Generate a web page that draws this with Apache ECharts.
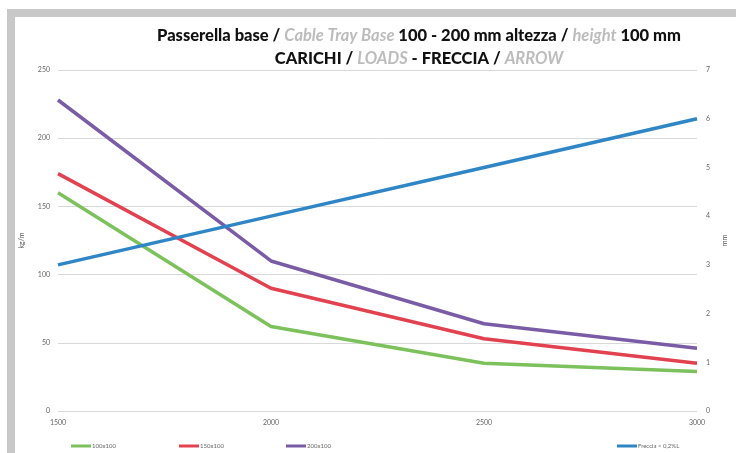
<!DOCTYPE html>
<html>
<head>
<meta charset="utf-8">
<script src="https://cdn.jsdelivr.net/npm/echarts@6/dist/echarts.min.js"></script>
<style>html,body{margin:0;padding:0;background:#fff}#c{width:736px;height:453px}</style>
</head>
<body>
<div id="c"></div>
<script>
const categories = ['1500', '2000', '2500', '3000'];
const s100x100 = [160, 62, 35, 29];
const s150x100 = [174, 90, 53, 35];
const s200x100 = [228, 110, 64, 46];
const freccia = [3, 4, 5, 6];
const leftTicks = [0, 50, 100, 150, 200, 250];
const rightTicks = [0, 1, 2, 3, 4, 5, 6, 7];

const chart = echarts.init(document.getElementById('c'));
const tickFont = { fontSize: 7, color: '#666', fontFamily: 'Lato' };
chart.setOption({
  backgroundColor: '#fff',
  animation: false,
  graphic: [
    { type: 'rect', shape: { x: 7, y: 9, width: 729, height: 8 }, style: { fill: '#c8c8c8' }, silent: true },
    { type: 'rect', shape: { x: 7, y: 9, width: 8, height: 444 }, style: { fill: '#c8c8c8' }, silent: true }
  ],
  title: {
    left: 414, top: 19, textAlign: 'center',
    text: '{b|Passerella base / }{g|Cable Tray Base}{b| 100 - 200 mm altezza / }{g|height}{b| 100 mm}\n{b|CARICHI / }{g|LOADS}{b| - FRECCIA / }{g|ARROW}',
    textStyle: {
      rich: {
        b: { fontFamily: 'Lato', fontWeight: 900, fontSize: 16.5, color: '#111', lineHeight: 23 },
        g: { fontFamily: 'Lato', fontStyle: 'italic', fontSize: 16.5, color: '#bcbcbc', lineHeight: 23 }
      }
    }
  },
  grid: { left: 58, right: 39, top: 70, bottom: 42 },
  legend: [
    { data: ['100x100'], left: 66, top: 438 },
    { data: ['150x100'], left: 174, top: 438 },
    { data: ['200x100'], left: 281, top: 438 },
    { data: ['Freccia < 0,2%L'], left: 612, top: 438 }
  ].map(l => Object.assign(l, {
    icon: 'rect', itemWidth: 20, itemHeight: 3, itemGap: 4,
    textStyle: { fontSize: 6, color: '#666', fontFamily: 'Lato', padding: [0, 0, 0, -4] }
  })),
  xAxis: {
    type: 'category', data: categories, boundaryGap: false,
    axisLine: { show: false }, axisTick: { show: false },
    axisLabel: Object.assign({ margin: 8 }, tickFont),
    splitLine: { show: false }
  },
  yAxis: [
    {
      type: 'value', min: 0, max: 250, interval: 50,
      name: 'kg/m', nameLocation: 'middle', nameGap: 33,
      nameTextStyle: { fontSize: 7, color: '#555', fontFamily: 'Lato' },
      axisLine: { show: false }, axisTick: { show: false },
      axisLabel: Object.assign({ margin: 8 }, tickFont),
      splitLine: { lineStyle: { color: '#d9d9d9', width: 1 } }
    },
    {
      type: 'value', min: 0, max: 7, interval: 1,
      name: 'mm', nameLocation: 'middle', nameGap: 22,
      nameTextStyle: { fontSize: 7, color: '#555', fontFamily: 'Lato' },
      axisLine: { show: false }, axisTick: { show: false },
      axisLabel: Object.assign({ margin: 9 }, tickFont),
      splitLine: { show: false }
    }
  ],
  series: [
    { name: '100x100', type: 'line', data: s100x100, yAxisIndex: 0, showSymbol: false, color: '#7cc15c', lineStyle: { width: 3.5 } },
    { name: '150x100', type: 'line', data: s150x100, yAxisIndex: 0, showSymbol: false, color: '#e2424f', lineStyle: { width: 3.5 } },
    { name: '200x100', type: 'line', data: s200x100, yAxisIndex: 0, showSymbol: false, color: '#7a5ca6', lineStyle: { width: 3.5 } },
    { name: 'Freccia < 0,2%L', type: 'line', data: freccia, yAxisIndex: 1, showSymbol: false, color: '#2e86c6', lineStyle: { width: 3.5 } }
  ]
});
</script>
</body>
</html>
